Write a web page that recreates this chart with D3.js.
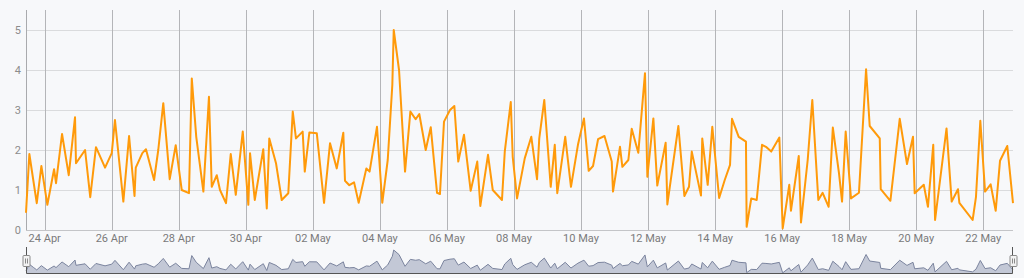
<!DOCTYPE html>
<html>
<head>
<meta charset="UTF-8">
<title>Time series</title>
<script src="https://cdn.jsdelivr.net/npm/d3@7"></script>
<style>
  html, body { margin: 0; padding: 0; background: #f7f8fa; }
  svg { display: block; font-family: Roboto, "Noto Sans", sans-serif; }
</style>
</head>
<body>
<svg id="chart" width="1024" height="278"></svg>
<script>
// hours after 24 Apr 00:00 (UTC)
var hours = [
  -13.4, -11.0, -8.2, -5.7, -2.4, 1.9, 6.7, 8.1, 12.4, 17.2,
  21.7, 22.4, 28.9, 32.6, 36.7, 43.2, 48.0, 50.3, 56.3, 60.4,
  64.3, 65.2, 69.9, 72.5, 78.3, 81.3, 84.9, 89.5, 93.8, 98.1,
  103.3, 105.3, 108.5, 113.6, 117.6, 119.6, 123.2, 125.5, 129.8, 133.2,
  136.8, 141.8, 145.8, 147.0, 150.4, 156.5, 159.0, 160.8, 165.6, 169.7,
  174.4, 177.6, 179.9, 184.7, 186.2, 189.5, 194.8, 200.0, 204.3, 209.1,
  213.8, 215.0, 218.1, 221.5, 224.8, 230.3, 232.6, 237.9, 241.7, 245.6,
  248.9, 249.9, 253.7, 258.0, 261.8, 265.6, 268.2, 272.8, 276.4, 280.9,
  283.0, 285.9, 290.2, 293.3, 296.1, 300.2, 305.0, 309.7, 311.9, 317.4,
  320.8, 327.4, 329.4, 333.7, 335.1, 338.2, 343.7, 348.4, 352.5, 354.1,
  357.7, 362.3, 365.2, 367.0, 372.7, 376.8, 381.8, 386.1, 389.5, 392.6,
  396.2, 400.8, 406.0, 406.9, 411.9, 413.6, 417.9, 420.3, 425.0, 429.8,
  431.5, 435.8, 438.6, 444.6, 445.8, 453.7, 458.0, 461.3, 463.3, 469.9,
  470.8, 474.7, 478.0, 482.9, 486.9, 490.7, 492.1, 496.9, 502.1, 502.6,
  505.9, 509.8, 513.6, 516.4, 520.2, 526.0, 528.4, 533.1, 534.3, 539.9,
  541.5, 546.3, 549.6, 553.9, 557.0, 561.3, 564.3, 568.7, 570.9, 573.5,
  577.3, 583.0, 588.1, 590.7, 597.9, 598.6, 605.5, 612.2, 617.4, 621.7,
  622.9, 629.4, 632.4, 636.2, 637.5, 645.7, 649.4, 653.9, 654.9, 664.4,
  666.8, 669.9, 673.3, 677.3, 680.9, 684.0, 689.2, 693.3
];
var values = [
  0.43, 1.90, 1.25, 0.67, 1.60, 0.63, 1.52, 1.17, 2.40, 1.37,
  2.82, 1.67, 2.00, 0.82, 2.07, 1.56, 1.92, 2.75, 0.71, 2.35,
  0.85, 1.56, 1.92, 2.02, 1.25, 2.00, 3.17, 1.27, 2.12, 1.00,
  0.92, 3.79, 2.33, 0.96, 3.33, 1.08, 1.37, 1.00, 0.67, 1.90,
  0.88, 2.46, 0.63, 1.92, 0.75, 2.02, 0.54, 2.29, 1.67, 0.75,
  0.92, 2.96, 2.29, 2.46, 1.46, 2.44, 2.42, 0.68, 2.17, 1.54,
  2.43, 1.23, 1.12, 1.19, 0.68, 1.54, 1.46, 2.58, 0.68, 1.75,
  3.63, 5.00, 4.00, 1.46, 2.96, 2.77, 2.90, 2.00, 2.57, 0.93,
  0.90, 2.71, 3.00, 3.10, 1.71, 2.38, 0.98, 1.71, 0.60, 1.88,
  1.00, 0.75, 1.96, 3.20, 1.83, 0.79, 1.79, 2.33, 1.27, 2.29,
  3.25, 1.08, 2.13, 0.92, 2.33, 1.08, 2.13, 2.79, 1.48, 1.60,
  2.27, 2.35, 1.71, 0.96, 2.08, 1.58, 1.75, 2.53, 1.93, 3.92,
  1.33, 2.79, 1.11, 2.18, 0.64, 2.60, 0.85, 1.08, 1.96, 0.86,
  2.29, 1.13, 2.58, 0.80, 1.25, 1.63, 2.78, 2.33, 2.21, 0.08,
  0.79, 0.75, 2.13, 2.08, 1.96, 2.31, 0.04, 1.13, 0.48, 1.85,
  0.19, 1.75, 3.25, 0.75, 0.93, 0.58, 2.56, 1.42, 0.71, 2.46,
  0.79, 0.93, 4.02, 2.60, 2.29, 1.02, 0.73, 2.78, 1.65, 2.33,
  0.92, 1.13, 0.58, 2.13, 0.25, 2.54, 0.71, 1.02, 0.68, 0.25,
  0.83, 2.73, 0.96, 1.14, 0.48, 1.73, 2.10, 0.67
];
var yTicks = [0, 1, 2, 3, 4, 5];
var tickStart = "2024-04-24";
var tickStepDays = 2;

var base = new Date(tickStart + "T00:00:00Z");
var data = hours.map(function (h, i) {
    return { date: new Date(base.getTime() + h * 3600e3), value: values[i] };
});

var svg = d3.select("#chart");
var plotLeft = 26, plotRight = 1013, plotTop = 10, plotBottom = 230;
var navTop = 250, navBottom = 273;

var x = d3.scaleUtc()
    .domain(d3.extent(data, function (d) { return d.date; }))
    .range([plotLeft, plotRight]);
var y = d3.scaleLinear().domain([0, 5.5]).range([plotBottom, plotTop]);
var yNav = d3.scaleLinear().domain([0, 5]).range([navBottom, navTop]);

var ticks = d3.utcDay.range(base, x.domain()[1])
    .filter(function (d, i) { return i % tickStepDays === 0; });

// horizontal grid
svg.append("g").selectAll("line").data(yTicks).enter().append("line")
    .attr("x1", plotLeft).attr("x2", plotRight)
    .attr("y1", function (d) { return Math.round(y(d)) + 0.5; })
    .attr("y2", function (d) { return Math.round(y(d)) + 0.5; })
    .style("stroke", "#dadbdd").style("stroke-width", 1);

// vertical grid
svg.append("g").selectAll("line").data(ticks).enter().append("line")
    .attr("x1", function (d) { return Math.round(x(d)) + 0.5; })
    .attr("x2", function (d) { return Math.round(x(d)) + 0.5; })
    .attr("y1", plotTop).attr("y2", plotBottom)
    .style("stroke", "#b4b5b8").style("stroke-width", 1);

// left border of plot
svg.append("line")
    .attr("x1", plotLeft + 0.5).attr("x2", plotLeft + 0.5)
    .attr("y1", plotTop).attr("y2", plotBottom)
    .style("stroke", "#a9aaad");

// x axis line
svg.append("line")
    .attr("x1", plotLeft).attr("x2", plotRight)
    .attr("y1", plotBottom + 0.5).attr("y2", plotBottom + 0.5)
    .style("stroke", "#c4c5c8");

// y labels
svg.append("g").selectAll("text").data(yTicks).enter().append("text")
    .attr("x", plotLeft - 5)
    .attr("y", function (d) { return y(d) + 4; })
    .attr("text-anchor", "end")
    .style("font-size", "11px").style("fill", "#8c8c8c")
    .text(function (d) { return d; });

// x labels
var fmt = d3.utcFormat("%d %b");
svg.append("g").selectAll("text").data(ticks).enter().append("text")
    .attr("x", function (d) { return x(d); })
    .attr("y", plotBottom + 12)
    .attr("text-anchor", "middle")
    .style("font-size", "11px").style("fill", "#7a7a7a")
    .text(function (d) { return fmt(d); });

// series
var line = d3.line()
    .x(function (d) { return x(d.date); })
    .y(function (d) { return y(d.value); });
svg.append("path").datum(data)
    .attr("d", line)
    .style("fill", "none")
    .style("stroke", "#ff9a0a")
    .style("stroke-width", 2)
    .style("stroke-linejoin", "round");

// navigator
var navArea = d3.area()
    .x(function (d) { return x(d.date); })
    .y0(navBottom)
    .y1(function (d) { return yNav(d.value); });
svg.append("path").datum(data)
    .attr("d", navArea)
    .style("fill", "#c3c8d6")
    .style("stroke", "none");
svg.append("path").datum(data)
    .attr("d", d3.line()
        .x(function (d) { return x(d.date); })
        .y(function (d) { return yNav(d.value); }))
    .style("fill", "none")
    .style("stroke", "#7b849e")
    .style("stroke-width", 1);

// navigator outline
svg.append("path")
    .attr("d", "M" + (plotLeft + 0.5) + "," + (navTop - 3) + "V" + (navBottom + 0.5) +
        "H" + (plotRight - 0.5) + "V" + (navTop - 3))
    .style("fill", "none")
    .style("stroke", "#555")
    .style("stroke-width", 1);

// handles
var handles = svg.append("g").selectAll("g").data([plotLeft, plotRight]).enter().append("g")
    .attr("transform", function (d) { return "translate(" + (Math.round(d) + 0.5) + ",0)"; });
handles.append("rect")
    .attr("x", -3.5).attr("y", 255.5).attr("width", 7).attr("height", 11)
    .attr("rx", 1)
    .style("fill", "#f2f2f2").style("stroke", "#8a8a8a");
handles.append("path")
    .attr("d", "M-1,258.5V263.5M1,258.5V263.5")
    .style("stroke", "#8a8a8a");
</script>
</body>
</html>
